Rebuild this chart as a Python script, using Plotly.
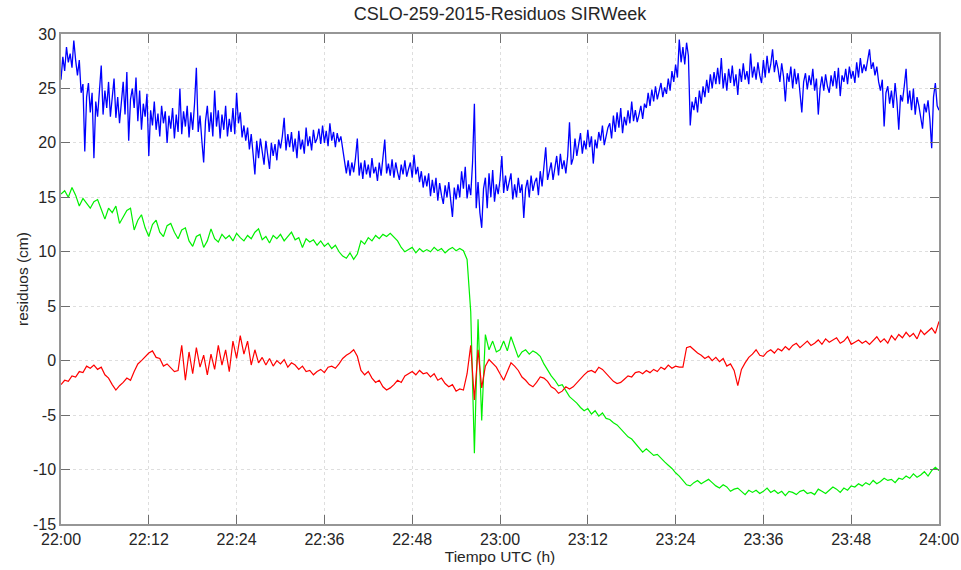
import plotly.graph_objects as go

# sampling times in minutes after 22:00
minutes_blue = [i * 0.25 for i in range(481)]
minutes = [i * 0.5 for i in range(241)]

tick_minutes = [0, 12, 24, 36, 48, 60, 72, 84, 96, 108, 120]
tick_labels = ["22:00", "22:12", "22:24", "22:36", "22:48", "23:00",
               "23:12", "23:24", "23:36", "23:48", "24:00"]
y_ticks = [-15, -10, -5, 0, 5, 10, 15, 20, 25, 30]
y_tick_labels = ["-15", "-10", "-5", "0", "5", "10", "15", "20", "25", "30"]

blue = [
    25.8, 27.9, 26.6, 28.8, 27.4, 28.2, 26.9, 29.4, 27.6, 26.2, 27.6, 24.6, 25.4, 19.2, 24.2, 25.5, 22.8, 24.6, 18.6, 23.8,
    22.4, 25.0, 27.1, 22.6, 24.8, 23.2, 25.6, 22.4, 24.6, 25.9, 22.3, 24.2, 21.8, 23.5, 25.6, 22.6, 26.5, 20.2, 24.0, 25.0,
    23.2, 26.0, 22.0, 24.8, 21.2, 23.6, 22.4, 24.5, 18.8, 23.0, 21.6, 23.8, 21.2, 22.7, 20.6, 23.4, 21.8, 22.9, 20.0, 22.5,
    21.3, 23.2, 20.4, 22.6, 21.0, 25.0, 20.8, 22.9, 21.5, 23.4, 20.5, 22.8, 21.2, 23.6, 26.9, 21.0, 22.5, 20.2, 18.2, 22.0,
    23.4, 21.0, 22.8, 20.6, 24.8, 21.5, 23.0, 20.4, 22.6, 21.2, 23.4, 20.6, 22.2, 21.0, 23.2, 20.8, 24.6, 21.8, 22.8, 20.5,
    21.6, 20.2, 21.4, 19.4, 20.8, 19.0, 17.1, 20.2, 18.6, 20.4, 19.0, 18.0, 20.2, 18.9, 17.6, 20.0, 18.8, 19.9, 18.4, 20.3,
    19.5, 20.6, 22.3, 19.3, 20.8, 19.6, 21.0, 19.2, 20.4, 18.6, 21.1, 19.4, 20.3, 19.0, 21.4, 19.7, 20.6, 19.3, 21.2, 20.0,
    20.4, 21.3, 19.9, 21.6, 20.0, 21.1, 19.7, 21.8, 20.2, 21.0, 19.6, 20.9, 20.1, 20.6, 19.4, 18.0, 17.2, 18.4, 17.0, 18.2,
    17.3, 18.6, 20.4, 17.0, 18.2, 16.7, 18.4, 17.1, 18.0, 16.8, 18.6, 17.2, 17.8, 16.5, 18.2, 17.0, 18.4, 20.3, 17.2, 18.1,
    17.0, 18.5, 16.8, 18.2, 17.3, 16.6, 18.0, 17.1, 18.4, 16.9, 17.6, 18.2, 16.8, 18.9, 17.1, 17.8, 16.4, 17.4, 15.9, 17.0,
    16.0, 17.2, 15.1, 16.6, 15.4, 16.8, 14.7, 16.3, 15.2, 14.4, 16.1, 15.0, 16.4, 14.6, 13.2, 15.9, 14.8, 16.2, 15.0, 17.4,
    15.8, 17.8, 14.9, 16.2, 15.2, 18.2, 23.6, 14.0, 16.4, 13.6, 12.2, 15.8, 16.8, 14.0, 17.2, 15.0, 17.5, 14.6, 16.2, 15.3,
    16.6, 18.8, 15.4, 17.0, 15.6, 16.4, 17.2, 14.8, 16.2, 15.0, 16.8, 15.4, 16.2, 13.1, 15.8, 16.6, 15.0, 17.0, 15.6, 16.4,
    16.8, 15.2, 17.4, 16.0, 17.8, 19.6, 16.6, 17.4, 18.2, 16.6, 17.6, 18.8, 17.0, 19.0, 17.6, 18.4, 17.2, 18.8, 21.9, 18.0,
    18.6, 20.4, 18.8, 19.8, 20.9, 19.0, 20.2, 19.4, 21.2, 19.6, 20.6, 18.1, 20.3, 19.5, 21.0, 20.2, 21.6, 19.8, 20.6, 21.4,
    21.8, 20.4, 22.5, 21.0, 22.8, 21.4, 23.2, 20.9, 22.4, 21.6, 23.0, 21.8, 23.8, 22.0, 23.0, 21.9, 22.6, 23.4, 22.2, 23.6,
    23.2, 24.6, 23.4, 24.9, 23.8, 25.2, 24.0, 24.8, 25.5, 24.2, 25.1, 24.5, 25.9, 24.8, 26.6, 25.6, 27.2, 26.0, 29.5, 27.4,
    28.8, 27.2, 29.2, 28.0, 21.6, 23.8, 23.0, 24.2, 22.8, 24.8, 23.6, 25.2, 24.2, 25.8, 24.6, 26.3, 25.0, 26.5, 25.4, 26.9,
    25.4, 27.8, 25.0, 26.4, 24.8, 26.8, 25.5, 27.1, 25.2, 26.3, 24.4, 26.8, 25.6, 27.3, 25.8, 26.6, 25.4, 28.2, 26.0, 27.0,
    25.8, 27.4, 26.2, 25.5, 27.6, 26.0, 28.0, 26.4, 27.2, 28.6, 26.5, 27.6, 26.8, 25.6, 27.3, 26.1, 23.8, 26.4, 25.6, 27.0,
    25.0, 26.8, 25.4, 26.4, 24.6, 22.8, 25.6, 26.4, 24.9, 26.2, 25.3, 26.8, 24.8, 25.9, 22.6, 25.0, 26.1, 24.8, 26.3, 25.2,
    24.6, 26.2, 25.2, 26.6, 25.0, 26.9, 24.3, 26.2, 25.6, 26.8, 25.4, 27.0, 25.9, 26.6, 25.5, 27.4, 26.0, 27.8, 26.4, 27.2,
    26.6, 27.6, 28.6, 26.8, 27.4, 26.2, 27.0, 25.6, 24.8, 25.8, 21.5, 24.6, 25.2, 23.6, 24.8, 23.2, 25.5, 23.8, 21.2, 24.4,
    23.8, 25.2, 26.8, 23.6, 24.8, 23.0, 25.0, 22.6, 24.2, 23.4, 22.4, 21.3, 23.6, 22.8, 23.9, 22.2, 19.5, 24.2, 25.5, 23.4,
    23.0,
]

green = [
    15.3, 15.6, 15.0, 15.9, 15.2, 14.2, 14.9, 14.4, 14.0, 14.6,
    14.8, 13.9, 13.0, 14.0, 13.6, 14.2, 12.6, 13.2, 13.8, 14.0,
    12.0, 12.9, 13.4, 12.2, 11.4, 12.5, 12.9, 11.8, 11.4, 12.4,
    12.6, 11.8, 11.2, 12.0, 12.2, 11.0, 10.5, 11.4, 11.6, 10.4,
    11.0, 12.1, 11.2, 10.9, 11.6, 11.2, 11.5, 11.0, 11.7, 11.3,
    11.0, 11.5, 11.2, 11.8, 12.1, 11.1, 11.4, 10.8, 11.5, 11.2,
    11.6, 11.0, 11.4, 11.8, 11.1, 11.3, 10.4, 11.2, 10.9, 11.1,
    10.6, 11.0, 10.5, 10.8, 10.3, 10.6, 10.0, 9.6, 9.4, 9.9,
    9.3, 9.8, 11.0, 10.7, 11.3, 11.0, 11.5, 11.2, 11.6, 11.4,
    11.7, 11.3, 11.0, 10.4, 10.0, 10.2, 10.4, 9.9, 10.3, 10.0,
    10.2, 10.0, 10.4, 10.1, 10.3, 9.9, 10.2, 10.4, 10.1, 10.3,
    10.1, 9.3, 4.5, -8.5, 3.8, -5.5, 2.4, 1.0, 1.8, 0.8,
    1.0, 1.8, 0.9, 2.2, 1.2, 0.3, 0.8, 1.0, 0.6, 0.9,
    0.7, 0.4, -0.3, -0.9, -1.4, -1.8, -2.3, -2.2, -2.8, -3.3,
    -3.6, -3.9, -4.3, -4.6, -4.4, -4.9, -4.6, -5.1, -4.8, -5.3,
    -5.4, -5.7, -5.9, -6.3, -6.6, -7.0, -7.2, -7.6, -8.0, -8.4,
    -8.1, -8.4, -8.7, -8.6, -9.0, -9.3, -9.6, -9.9, -10.3, -10.6,
    -11.0, -11.4, -11.5, -11.2, -11.0, -11.3, -11.1, -10.9, -11.2, -11.5,
    -11.7, -11.4, -11.6, -12.0, -11.8, -11.7, -12.0, -12.3, -11.9, -12.1,
    -11.9, -12.2, -12.0, -11.7, -12.1, -11.9, -12.2, -12.0, -12.4, -12.0,
    -12.1, -12.3, -12.0, -11.9, -12.2, -12.1, -12.3, -11.8, -12.0, -12.2,
    -11.9, -11.6, -11.8, -12.1, -11.7, -11.9, -11.5, -11.6, -11.3, -11.5,
    -11.2, -11.4, -11.0, -11.3, -11.1, -10.8, -11.0, -10.9, -11.2, -10.8,
    -10.9, -10.6, -10.8, -10.4, -10.7, -10.5, -10.2, -10.6, -10.1, -9.8,
    -10.1,
]

red = [
    -2.2, -1.8, -1.9, -1.4, -1.5, -1.0, -1.1, -0.5, -0.7, -0.4,
    -0.8, -0.6, -1.3, -1.6, -2.2, -2.7, -2.3, -2.0, -1.6, -1.8,
    -1.0, -0.3, 0.0, 0.4, 0.7, 0.9, 0.3, 0.2, -0.5, -0.3,
    -0.7, -1.0, -0.9, 1.4, -1.8, 0.8, -1.2, 1.2, -0.6, 0.5,
    -1.3, 0.6, -0.8, 1.4, -0.4, 1.0, -1.0, 1.8, 0.2, 2.3,
    0.6, 1.8, -0.4, 1.0, -0.2, 0.3, -0.4, 0.2, -0.5, 0.0,
    -0.3, 0.1, -0.6, -0.2, -0.4, -0.8, -0.5, -1.0, -0.9, -1.3,
    -1.0, -0.8, -1.1, -0.6, -0.5, -0.7, -0.3, 0.2, 0.5, 0.7,
    1.0, 0.4, -0.9, -1.3, -1.0, -1.6, -2.0, -1.8, -2.4, -2.7,
    -2.5, -2.2, -1.8, -2.0, -1.4, -1.2, -1.0, -1.3, -0.9, -1.2,
    -1.1, -1.5, -1.2, -1.8, -1.6, -2.1, -2.4, -2.2, -2.8, -2.6,
    -2.7, -1.2, 1.4, -3.6, 1.0, -2.5, -0.5, 0.1, -0.3, -0.6,
    -1.2, -1.8, -1.0, -0.2, -0.5, -0.9, -1.5, -1.8, -2.2, -2.4,
    -2.0, -1.5, -1.6, -1.9, -2.4, -2.6, -3.0, -2.8, -2.4, -2.6,
    -2.4, -2.0, -1.6, -1.3, -1.0, -0.9, -1.1, -0.6, -0.8, -1.2,
    -1.5, -1.9, -2.1, -2.0, -1.7, -1.4, -1.5, -1.1, -1.0, -1.2,
    -0.9, -1.1, -0.8, -1.0, -0.6, -0.8, -0.4, -0.7, -0.5, -0.6,
    -0.6, 1.2, 1.3, 1.0, 0.7, 0.5, 0.2, 0.4, 0.0, 0.3,
    -0.1, 0.2, -0.5, -0.3, -0.9, -2.3, -0.8, -0.2, 0.3, 0.6,
    1.0, 0.5, 0.4, 0.8, 1.0, 0.7, 1.1, 0.9, 1.3, 1.0,
    1.4, 1.6, 1.2, 1.5, 1.8, 1.4, 1.6, 1.9, 1.5, 2.0,
    1.7, 1.9, 2.1, 1.6, 1.8, 2.2, 1.5, 1.7, 1.9, 1.6,
    1.8, 1.5, 1.9, 2.2, 1.7, 2.0, 1.6, 2.3, 1.9, 2.4,
    2.1, 2.6, 2.2, 2.5, 2.0, 2.8, 2.4, 2.7, 3.0, 2.5,
    3.6,
]

assert len(blue) == len(minutes_blue), len(blue)
assert len(green) == len(minutes) and len(red) == len(minutes), (len(green), len(red))

fig = go.Figure()
fig.add_trace(go.Scatter(x=minutes_blue, y=blue, mode="lines",
                         line=dict(color="rgb(0,0,255)", width=1.3), showlegend=False))
fig.add_trace(go.Scatter(x=minutes, y=green, mode="lines",
                         line=dict(color="rgb(0,240,0)", width=1.2), showlegend=False))
fig.add_trace(go.Scatter(x=minutes, y=red, mode="lines",
                         line=dict(color="rgb(255,0,0)", width=1.2), showlegend=False))

font_family = "Liberation Sans, Arial, sans-serif"
text_color = "rgb(38,38,38)"
axis_common = dict(
    showline=True, linecolor="rgb(150,150,150)", linewidth=1.5, mirror="ticks",
    ticks="inside", ticklen=9, tickcolor="rgb(110,110,110)", tickwidth=1,
    showgrid=True, gridcolor="rgb(222,222,222)", griddash="dot", gridwidth=1,
    zeroline=False, automargin=False,
    tickfont=dict(size=16, color=text_color, family=font_family),
)

fig.update_xaxes(range=[0, 120], tickmode="array", tickvals=tick_minutes,
                 ticktext=tick_labels,
                 title=dict(text="Tiempo UTC (h)", standoff=0,
                            font=dict(size=15.5, color=text_color, family=font_family)),
                 **axis_common)
fig.update_yaxes(range=[-15, 30], tickmode="array", tickvals=y_ticks,
                 ticktext=y_tick_labels,
                 title=dict(text="residuos (cm)", standoff=0,
                            font=dict(size=15.5, color=text_color, family=font_family)),
                 **axis_common)

fig.update_layout(
    width=961, height=570,
    margin=dict(l=61, r=22, t=34, b=46, autoexpand=False),
    paper_bgcolor="white", plot_bgcolor="white",
    font=dict(family=font_family, color=text_color),
    title=dict(text="CSLO-259-2015-Residuos SIRWeek", x=500 / 961, xanchor="center",
               xref="container", y=1 - 14 / 570, yanchor="middle",
               font=dict(size=18, color=text_color, family=font_family)),
)

fig.write_html("out.html", config={"displayModeBar": False},
               post_script="document.body.style.margin='0px';")
